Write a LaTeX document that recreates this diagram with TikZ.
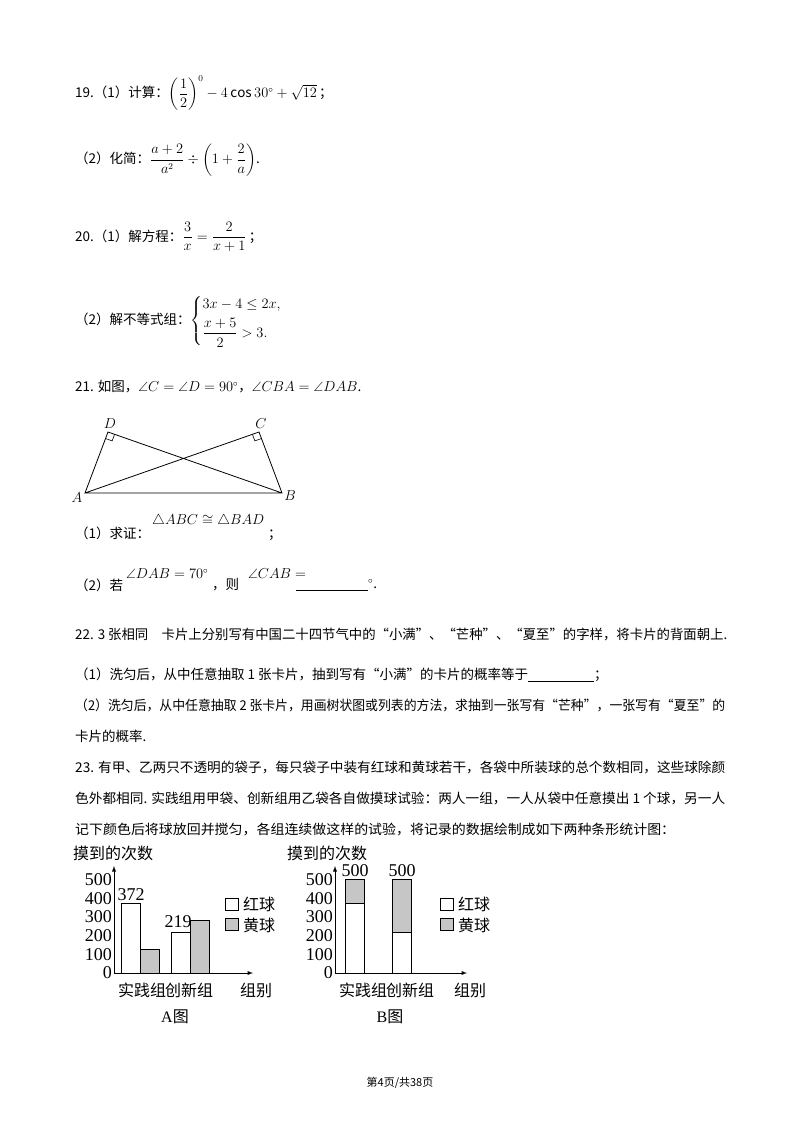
\documentclass[tikz,border=0pt]{standalone}
\usepackage{amsmath,amssymb}
\usepackage{fontspec}
\usetikzlibrary{calc}
\setmainfont{Noto Sans CJK SC}
\newfontfamily\tnr{Liberation Serif}
\newcommand{\fitw}[1]{\resizebox{650pt}{\height}{#1}}
\begin{document}
\begin{tikzpicture}[x=1pt,y=-1pt,font=\fontsize{13.5}{16}\selectfont,
  t/.style={anchor=west,inner sep=0pt},
  ct/.style={inner sep=0pt,font=\fontsize{16}{18}\selectfont},
  ax/.style={line width=0.9pt,-latex},
  bar/.style={draw,line width=0.9pt},
  yel/.style={bar,fill=gray!45},
  num/.style={font=\tnr\fontsize{18}{19}\selectfont,inner sep=0pt},
  ln/.style={line width=0.8pt}]
\useasboundingbox (0,0) rectangle (800,1132);
\node[t] (l1) at (75,93) {19.（1）计算：$\left(\dfrac12\right)^{0}-4\cos30^\circ+\sqrt{12}$\,；};
\node[t] (l2) at (75,160) {（2）化简：$\dfrac{a+2}{a^2}\div\left(1+\dfrac{2}{a}\right)$.};
\node[t] (l3) at (75,237) {20.（1）解方程：$\dfrac{3}{x}=\dfrac{2}{x+1}$\,；};
\node[t] (l4) at (75,321) {（2）解不等式组：$\begin{cases}3x-4\le 2x,\\[4pt] \dfrac{x+5}{2}>3.\end{cases}$};
\node[t] (l5) at (75,387) {21. 如图，$\angle C=\angle D=90^\circ$，$\angle CBA=\angle DAB$.};
% geometry
\coordinate (A) at (85,493); \coordinate (B) at (282,493);
\coordinate (D) at (108,432); \coordinate (C) at (259,432);
\draw[ln] (A)--(B)--(C)--(A)--(D)--(B);
\draw[line width=0.6pt] ($(D)!7pt!(A)$) -- ($(D)!7pt!(A)+(D)!7pt!(B)-(D)$) -- ($(D)!7pt!(B)$);
\draw[line width=0.6pt] ($(C)!7pt!(B)$) -- ($(C)!7pt!(B)+(C)!7pt!(A)-(C)$) -- ($(C)!7pt!(A)$);
\node[inner sep=0pt] (nA) at (77,498) {$A$};
\node[inner sep=0pt] (nB) at (290,496) {$B$};
\node[inner sep=0pt] (nD) at (110,424) {$D$};
\node[inner sep=0pt] (nC) at (261,424) {$C$};
\node[t] (l6) at (75,533) {（1）求证：};
\node[t] (f6) at (152,521) {$\triangle ABC\cong\triangle BAD$};
\node[t] (s6) at (268,535) {；};
\node[t] (l7) at (75,585) {（2）若};
\node[t] (f7) at (126,574) {$\angle DAB=70^\circ$};
\node[t] (m7) at (212,585) {，则};
\node[t] (g7) at (248,574) {$\angle CAB=$};
\node[t] (h7) at (296,585) {\underline{\hspace{72pt}}$^\circ$.};
\node[t] (l8) at (75,634) {\resizebox{652pt}{\height}{22. 3 张相同\quad 卡片上分别写有中国二十四节气中的“小满”、“芒种”、“夏至”的字样，将卡片的背面朝上.}};
\node[t] (l9) at (75,675) {（1）洗匀后，从中任意抽取 1 张卡片，抽到写有“小满”的卡片的概率等于\underline{\hspace{66pt}}；};
\node[t] (l10) at (75,705) {\fitw{（2）洗匀后，从中任意抽取 2 张卡片，用画树状图或列表的方法，求抽到一张写有“芒种”，一张写有“夏至”的}};
\node[t] (l11) at (75,736) {卡片的概率.};
\node[t] (l12) at (75,767) {\fitw{23. 有甲、乙两只不透明的袋子，每只袋子中装有红球和黄球若干，各袋中所装球的总个数相同，这些球除颜}};
\node[t] (l13) at (75,798) {\fitw{色外都相同. 实践组用甲袋、创新组用乙袋各自做摸球试验：两人一组，一人从袋中任意摸出 1 个球，另一人}};
\node[t] (l14) at (75,829) {\resizebox{600pt}{\height}{记下颜色后将球放回并搅匀，各组连续做这样的试验，将记录的数据绘制成如下两种条形统计图：}};
% chart A
\def\u{0.1866}
\draw[ax] (114,973) -- (114,866);
\draw[ax] (114,973) -- (253,973);
\foreach \v in {0,100,...,500}{\node[num,anchor=east] at (112,973-\v*\u) {\v};}
\node[ct] (yA) at (113,853) {摸到的次数};
\draw[bar] (121,973) rectangle (140,973-372*\u);
\draw[yel] (140,973) rectangle (159,973-128*\u);
\draw[bar] (171,973) rectangle (190,973-219*\u);
\draw[yel] (190,973) rectangle (209,973-281*\u);
\node[num] (n372) at (131,895) {372};
\node[num] (n219) at (178,922) {219};
\draw[bar] (225,898) rectangle (238,910); \node[ct,anchor=west] (ra) at (243,904) {红球};
\draw[yel] (225,918) rectangle (238,930); \node[ct,anchor=west] (ya) at (243,925) {黄球};
\node[ct] (ga) at (142,990) {实践组};
\node[ct] (gb) at (189,990) {创新组};
\node[ct] (gz) at (256,990) {组别};
\node[ct] (tA) at (175,1017) {{\tnr A}图};
% chart B
\draw[ax] (335,973) -- (335,866);
\draw[ax] (335,973) -- (467,973);
\foreach \v in {0,100,...,500}{\node[num,anchor=east] at (333,973-\v*\u) {\v};}
\node[ct] (yB) at (327,853) {摸到的次数};
\draw[bar] (345,973) rectangle (364,973-372*\u);
\draw[yel] (345,973-372*\u) rectangle (364,973-500*\u);
\draw[bar] (392,973) rectangle (411,973-219*\u);
\draw[yel] (392,973-219*\u) rectangle (411,973-500*\u);
\node[num] (b1) at (355,871) {500};
\node[num] (b2) at (402,871) {500};
\draw[bar] (440,898) rectangle (453,910); \node[ct,anchor=west] (rb) at (458,904) {红球};
\draw[yel] (440,918) rectangle (453,930); \node[ct,anchor=west] (yb) at (458,925) {黄球};
\node[ct] (gc) at (363,990) {实践组};
\node[ct] (gd) at (410,990) {创新组};
\node[ct] (gy) at (470,990) {组别};
\node[ct] (tB) at (390,1017) {{\tnr B}图};
\node[inner sep=0pt,font=\fontsize{11}{13}\selectfont] (ft) at (400,1083) {第4页/共38页};
\end{tikzpicture}
\end{document}
